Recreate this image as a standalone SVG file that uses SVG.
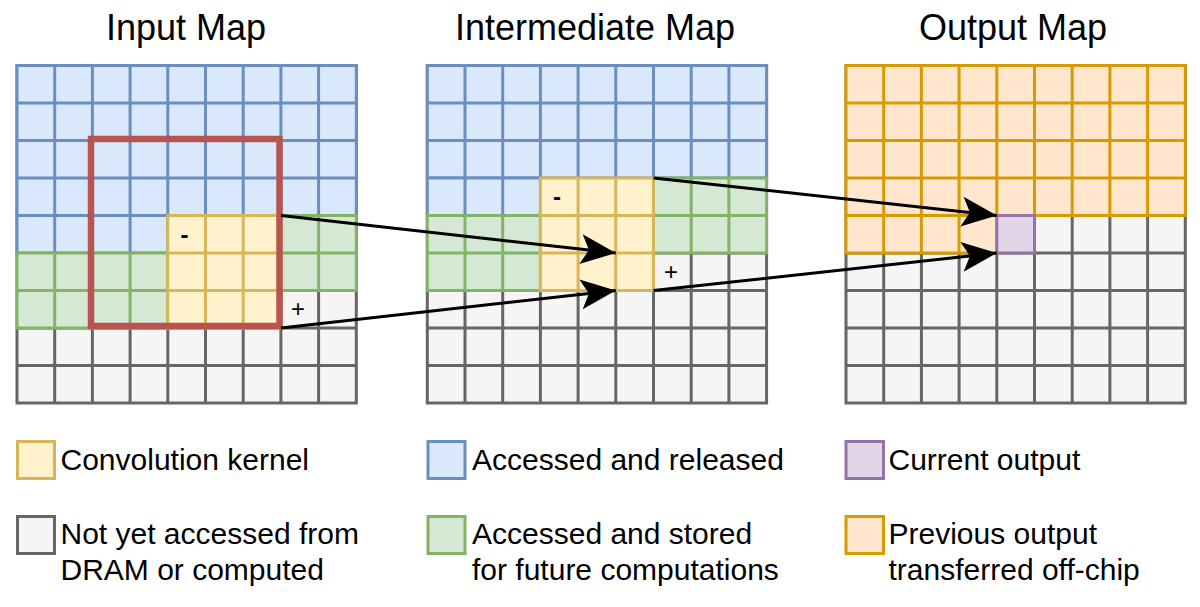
<svg xmlns="http://www.w3.org/2000/svg" width="1200" height="607" viewBox="0 0 1200 607">
<style>
text{font-family:"Liberation Sans",Arial,sans-serif;fill:#000}
.t{font-size:36px;text-anchor:middle}
.l{font-size:30px}
.s{font-size:24px;font-weight:bold;text-anchor:middle}
.pl{font-size:24px;text-anchor:middle}
rect,path{stroke-width:3}
.ln{fill:none}
.g{fill:#f5f5f5;stroke:#666666}
.b{fill:#dae8fc;stroke:#6c8ebf}
.gr{fill:#d5e8d4;stroke:#82b366}
.y{fill:#fff2cc;stroke:#d6b656}
.o{fill:#ffe6cc;stroke:#d79b00}
.p{fill:#e1d5e7;stroke:#9673a6}
.red{fill:none;stroke:#b85450;stroke-width:6.5}
.arr{fill:none;stroke:#000;stroke-width:3;marker-end:url(#ah)}
</style>
<defs>
<marker id="ah" markerUnits="userSpaceOnUse" markerWidth="40" markerHeight="34" refX="36" refY="16" orient="auto" overflow="visible">
<path d="M36,16 L1,1 L9,16 L1,31 Z" fill="#000" stroke="none"/>
</marker>
</defs>
<rect width="1200" height="607" fill="#fff" stroke="none"/>

<g id="titles">
<text class="t" x="186" y="39.5">Input Map</text>
<text class="t" x="595" y="39.5">Intermediate Map</text>
<text class="t" x="1013" y="39.5">Output Map</text>
</g>

<g id="input-map">
<g class="g">
<rect x="17" y="65.5" width="339.3" height="337.5"/>
<path class="ln" d="M54.7,65.5V403M92.4,65.5V403M130.1,65.5V403M167.8,65.5V403M205.5,65.5V403M243.2,65.5V403M280.9,65.5V403M318.6,65.5V403M17,103H356.3M17,140.5H356.3M17,178H356.3M17,215.5H356.3M17,253H356.3M17,290.5H356.3M17,328H356.3M17,365.5H356.3"/>
</g>
<g class="b">
<rect x="17" y="65.5" width="339.3" height="150"/>
<path class="ln" d="M54.7,65.5V215.5M92.4,65.5V215.5M130.1,65.5V215.5M167.8,65.5V215.5M205.5,65.5V215.5M243.2,65.5V215.5M280.9,65.5V215.5M318.6,65.5V215.5M17,103H356.3M17,140.5H356.3M17,178H356.3"/>
<rect x="17" y="215.5" width="150.8" height="37.5"/>
<path class="ln" d="M54.7,215.5V253M92.4,215.5V253M130.1,215.5V253"/>
</g>
<g class="gr">
<rect x="17" y="253" width="150.8" height="75"/>
<path class="ln" d="M54.7,253V328M92.4,253V328M130.1,253V328M17,290.5H167.8"/>
<rect x="280.9" y="215.5" width="75.4" height="75"/>
<path class="ln" d="M318.6,215.5V290.5M280.9,253H356.3"/>
</g>
<g class="y">
<rect x="167.8" y="215.5" width="113.1" height="112.5"/>
<path class="ln" d="M205.5,215.5V328M243.2,215.5V328M167.8,253H280.9M167.8,290.5H280.9"/>
</g>
<rect class="red" x="91" y="139" width="188.5" height="187"/>
<text class="s" x="184.5" y="243">-</text>
<text class="pl" x="298" y="316.5">+</text>
</g>

<g id="intermediate-map">
<g class="g">
<rect x="427.3" y="65.5" width="339.3" height="337.5"/>
<path class="ln" d="M465,65.5V403M502.7,65.5V403M540.4,65.5V403M578.1,65.5V403M615.8,65.5V403M653.5,65.5V403M691.2,65.5V403M728.9,65.5V403M427.3,103H766.6M427.3,140.5H766.6M427.3,178H766.6M427.3,215.5H766.6M427.3,253H766.6M427.3,290.5H766.6M427.3,328H766.6M427.3,365.5H766.6"/>
</g>
<g class="b">
<rect x="427.3" y="65.5" width="339.3" height="112.5"/>
<path class="ln" d="M465,65.5V178M502.7,65.5V178M540.4,65.5V178M578.1,65.5V178M615.8,65.5V178M653.5,65.5V178M691.2,65.5V178M728.9,65.5V178M427.3,103H766.6M427.3,140.5H766.6"/>
<rect x="427.3" y="178" width="113.1" height="37.5"/>
<path class="ln" d="M465,178V215.5M502.7,178V215.5"/>
</g>
<g class="gr">
<rect x="427.3" y="215.5" width="113.1" height="75"/>
<path class="ln" d="M465,215.5V290.5M502.7,215.5V290.5M427.3,253H540.4"/>
<rect x="653.5" y="178" width="113.1" height="75"/>
<path class="ln" d="M691.2,178V253M728.9,178V253M653.5,215.5H766.6"/>
</g>
<g class="y">
<rect x="540.4" y="178" width="113.1" height="112.5"/>
<path class="ln" d="M578.1,178V290.5M615.8,178V290.5M540.4,215.5H653.5M540.4,253H653.5"/>
</g>
<text class="s" x="557" y="205">-</text>
<text class="pl" x="671" y="279.5">+</text>
</g>

<g id="output-map">
<g class="g">
<rect x="846" y="65.5" width="339.3" height="337.5"/>
<path class="ln" d="M883.7,65.5V403M921.4,65.5V403M959.1,65.5V403M996.8,65.5V403M1034.5,65.5V403M1072.2,65.5V403M1109.9,65.5V403M1147.6,65.5V403M846,103H1185.3M846,140.5H1185.3M846,178H1185.3M846,215.5H1185.3M846,253H1185.3M846,290.5H1185.3M846,328H1185.3M846,365.5H1185.3"/>
</g>
<g class="o">
<rect x="846" y="65.5" width="339.3" height="150"/>
<path class="ln" d="M883.7,65.5V215.5M921.4,65.5V215.5M959.1,65.5V215.5M996.8,65.5V215.5M1034.5,65.5V215.5M1072.2,65.5V215.5M1109.9,65.5V215.5M1147.6,65.5V215.5M846,103H1185.3M846,140.5H1185.3M846,178H1185.3"/>
<rect x="846" y="215.5" width="150.8" height="37.5"/>
<path class="ln" d="M883.7,215.5V253M921.4,215.5V253M959.1,215.5V253"/>
</g>
<rect id="current-output" class="p" x="996.8" y="215.5" width="37.7" height="37.5"/>
</g>

<g id="connectors">
<path class="arr" d="M281,215.5L615.8,253"/>
<path class="arr" d="M281,328L615.8,290.5"/>
<path class="arr" d="M653.5,178L996.8,215.5"/>
<path class="arr" d="M653.5,290.5L996.8,253"/>
</g>

<g id="legend-kernel">
<rect class="y" x="17.5" y="441.5" width="37" height="37"/>
<text class="l" x="60.5" y="469.5">Convolution kernel</text>
</g>
<g id="legend-not-accessed">
<rect class="g" x="17.5" y="516.5" width="37" height="37"/>
<text class="l" x="60.5" y="543.5">Not yet accessed from</text>
<text class="l" x="60.5" y="579.5">DRAM or computed</text>
</g>
<g id="legend-released">
<rect class="b" x="428" y="441.5" width="37" height="37"/>
<text class="l" x="472" y="469.5">Accessed and released</text>
</g>
<g id="legend-stored">
<rect class="gr" x="428" y="516.5" width="37" height="37"/>
<text class="l" x="472" y="543.5">Accessed and stored</text>
<text class="l" x="472" y="579.5">for future computations</text>
</g>
<g id="legend-current">
<rect class="p" x="846" y="441.5" width="37.5" height="37"/>
<text class="l" x="888.5" y="469.5">Current output</text>
</g>
<g id="legend-previous">
<rect class="o" x="846" y="516.5" width="37.5" height="37"/>
<text class="l" x="888.5" y="543.5">Previous output</text>
<text class="l" x="888.5" y="579.5">transferred off-chip</text>
</g>
</svg>
